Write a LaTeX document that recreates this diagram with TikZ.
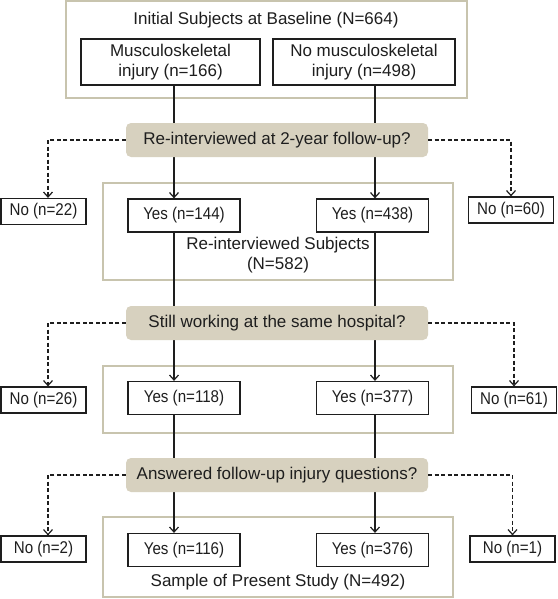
\documentclass[tikz,border=0pt]{standalone}
\usepackage{fontspec}
\setmainfont{Liberation Sans}
\newfontfamily\narrowfont{Liberation Sans}[FakeStretch=0.89]
\usetikzlibrary{arrows.meta}
\definecolor{frametan}{HTML}{C8C4AE}
\definecolor{qfill}{HTML}{D7D1BF}
\definecolor{ink}{HTML}{1E1E1E}
\begin{document}
\begin{tikzpicture}[x=1pt,y=-1pt,
  font=\fontsize{17}{19.5}\selectfont, text=ink,
  frame/.style={draw=frametan, line width=2pt, inner sep=0pt},
  qbox/.style={fill=qfill, rounded corners=5pt, minimum width=302pt, minimum height=34pt, inner sep=0pt},
  box/.style={draw=ink, fill=white, line width=1.2pt, inner sep=0pt},
  nobox/.style={box, minimum width=85pt, minimum height=26pt, font=\narrowfont\fontsize{17}{19.5}\selectfont},
  yesbox/.style={box, minimum width=112pt, minimum height=33pt, font=\narrowfont\fontsize{17}{19.5}\selectfont},
  flow/.style={draw=ink, line width=1.2pt, -{Straight Barb[length=5pt,width=9pt]}},
  dropout/.style={flow, dash pattern=on 4pt off 2.5pt}]
\useasboundingbox (0,0) rectangle (557,599);
\fill[white] (0,0) rectangle (557,599);

% frames
\node[frame, minimum width=401pt, minimum height=97pt] (f1) at (266.5,49.5) {};
\node[frame, minimum width=350pt, minimum height=97pt] (f2) at (278,231.5) {};
\node[frame, minimum width=350pt, minimum height=67pt] (f3) at (278,399.5) {};
\node[frame, minimum width=350pt, minimum height=80pt] (f4) at (278,557) {};

% frame labels
\node (t1) at (266,20) {Initial Subjects at Baseline (N=664)};
\node[align=center] (t2) at (278,255) {Re-interviewed Subjects\\(N=582)};
\node (t4) at (278,582) {Sample of Present Study (N=492)};

% boxes
\node[box, minimum width=179pt, minimum height=46pt, align=center] (musc) at (170.5,62) {Musculoskeletal\\injury (n=166)};
\node[box, minimum width=182pt, minimum height=46pt, align=center] (nomusc) at (364,62) {No musculoskeletal\\injury (n=498)};

\node[yesbox] (y144) at (184,215.5) {Yes (n=144)};
\node[yesbox] (y438) at (372.5,215.5) {Yes (n=438)};
\node[yesbox] (y118) at (184,398) {Yes (n=118)};
\node[yesbox] (y377) at (372.5,398) {Yes (n=377)};
\node[yesbox] (y116) at (184,550) {Yes (n=116)};
\node[yesbox] (y376) at (372.5,550) {Yes (n=376)};

\node[nobox] (no22) at (43.5,211.5) {No (n=22)};
\node[nobox] (no60) at (511,210) {No (n=60)};
\node[nobox] (no26) at (43.5,400) {No (n=26)};
\node[nobox] (no61) at (514,400) {No (n=61)};
\node[nobox] (no2) at (43.5,549) {No (n=2)};
\node[nobox] (no1) at (512.5,549) {No (n=1)};

% main flow lines
\coordinate (lx) at (174,0);
\coordinate (rx) at (375,0);
\draw[flow] (musc.south -| lx) -- (y144.north -| lx);
\draw[flow] (y144.south -| lx) -- (y118.north -| lx);
\draw[flow] (y118.south -| lx) -- (y116.north -| lx);
\draw[flow] (nomusc.south -| rx) -- (y438.north -| rx);
\draw[flow] (y438.south -| rx) -- (y377.north -| rx);
\draw[flow] (y377.south -| rx) -- (y376.north -| rx);

% questions
\node[qbox] (q1) at (277,140) {Re-interviewed at 2-year follow-up?};
\node[qbox] (q2) at (277,323) {Still working at the same hospital?};
\node[qbox] (q3) at (277,475) {Answered follow-up injury questions?};

% dropouts
\draw[dropout] (q1.west) -| ([xshift=4.5pt]no22.north);
\draw[dropout] (q1.east) -| (no60.north);
\draw[dropout] (q2.west) -| ([xshift=4.5pt]no26.north);
\draw[dropout] (q2.east) -| (no61.north);
\draw[dropout] (q3.west) -| ([xshift=4.5pt]no2.north);
\draw[dropout] (q3.east) -| (no1.north);
\end{tikzpicture}
\end{document}
